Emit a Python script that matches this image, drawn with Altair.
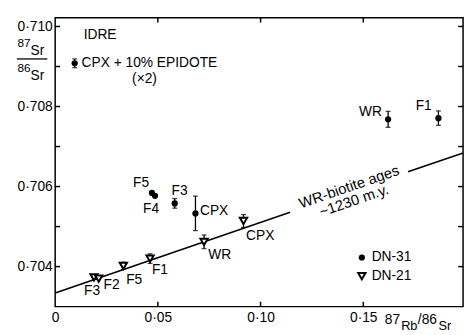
import altair as alt
import pandas as pd

# ---------------- data ----------------
X_DOMAIN = [0.0, 0.1986]
Y_DOMAIN = [0.703, 0.71022]
X_LABEL_TICKS = [0.0, 0.05, 0.10, 0.15]
X_MINOR_TICKS = [0.05, 0.10, 0.15]
Y_LABEL_TICKS = [0.704, 0.706, 0.708, 0.710]
Y_MINOR_TICKS = [0.704, 0.705, 0.706, 0.707, 0.708, 0.709, 0.710]

# DN-31 (filled circles)
dn31_name = ["CPX+EP", "F5", "F4", "F3", "CPX", "WR", "F1"]
dn31_x = [0.0095, 0.0471, 0.0486, 0.0582, 0.0683, 0.1621, 0.1866]
dn31_y = [0.70908, 0.70584, 0.70577, 0.70558, 0.70533, 0.70768, 0.70771]
dn31_err = [0.00011, 0.0, 0.0, 0.00012, 0.00043, 0.00020, 0.00018]

# DN-21 (open down-triangles)
dn21_name = ["F3", "F2", "F5", "F1", "WR", "CPX"]
dn21_x = [0.0189, 0.0212, 0.0332, 0.0462, 0.0725, 0.0917]
dn21_y = [0.70373, 0.70370, 0.70402, 0.70420, 0.70462, 0.70514]
dn21_err = [0.0, 0.0, 0.00009, 0.00012, 0.00017, 0.00016]

# WR-biotite reference line (~1230 m.y.), broken where its label sits
iso_seg = ["a", "a", "b", "b"]
iso_x = [0.0, 0.1144, 0.1718, 0.1986]
iso_y = [0.70334, 0.70536, 0.70637, 0.70684]

# point labels (text shown next to each point; pixel offsets are styling)
lab31_text = ["(×2)", "F5", "F4", "F3", "CPX", "WR", "F1"]
lab31_dx = [71, -11, -4, 5, 19, -18, -15]
lab31_dy = [16, -10, 14, -13, -2, -7, -12]
lab21_text = ["F3", "F2", "F5", "F1", "WR", "CPX"]
lab21_dx = [-2, 13, 11, 10, 16, 17]
lab21_dy = [14, 7, 14, 12, 13, 15]

# ---------------- build tables ----------------
W, H = 415, 294
FONT = "Liberation Sans"

d31 = pd.DataFrame({"name": dn31_name, "x": dn31_x, "y": dn31_y, "err": dn31_err})
d21 = pd.DataFrame({"name": dn21_name, "x": dn21_x, "y": dn21_y, "err": dn21_err})
pts = pd.concat([d31, d21])
eb = pts[pts.err > 0].copy()
eb["lo"] = eb.y - eb.err
eb["hi"] = eb.y + eb.err
caps = pd.concat([
    pd.DataFrame({"x": eb.x, "y": eb.lo}),
    pd.DataFrame({"x": eb.x, "y": eb.hi}),
])
iso = pd.DataFrame({"seg": iso_seg, "x": iso_x, "y": iso_y})

lab_rows = (
    [(dn31_x[i], dn31_y[i], lab31_text[i], lab31_dx[i], lab31_dy[i]) for i in range(len(lab31_text))]
    + [(dn21_x[i], dn21_y[i], lab21_text[i], lab21_dx[i], lab21_dy[i]) for i in range(len(lab21_text))]
)
epi = pd.DataFrame({"x": [dn31_x[0]], "y": [dn31_y[0]], "t": ["CPX + 10% EPIDOTE"]})

xs = alt.Scale(domain=X_DOMAIN, nice=False, zero=False)
ys = alt.Scale(domain=Y_DOMAIN, nice=False, zero=False)

x_axis = alt.Axis(values=X_LABEL_TICKS, title=None, ticks=False, domain=False, grid=False,
                  labelExpr="datum.value == 0 ? '0' : replace(format(datum.value, '.2f'), '.', '·')",
                  labelPadding=4, labelFontSize=14, labelFont=FONT, labelColor="black",
                  labelFlush=False)
y_axis = alt.Axis(values=Y_LABEL_TICKS, title=None, ticks=False, domain=False, grid=False,
                  labelExpr="replace(format(datum.value, '.3f'), '.', '·')",
                  labelPadding=3, labelFontSize=14, labelFont=FONT, labelColor="black",
                  labelFlush=False)
X = alt.X("x:Q", scale=xs, axis=x_axis)
Y = alt.Y("y:Q", scale=ys, axis=y_axis)

one = pd.DataFrame({"a": [0]})

def txt(s, x, y, size=14, align="left", baseline="alphabetic", angle=0):
    kw = dict(text=s, fontSize=size, font=FONT, color="black", align=align, baseline=baseline)
    if angle:
        kw["angle"] = angle
    return alt.Chart(one).mark_text(**kw).encode(x=alt.value(x), y=alt.value(y))

line = alt.Chart(iso).mark_line(color="black", strokeWidth=1.5).encode(x=X, y=Y, detail="seg:N")
bars = alt.Chart(eb).mark_rule(color="black", strokeWidth=1.3).encode(
    x=X, y=alt.Y("lo:Q", scale=ys, axis=y_axis), y2="hi:Q")
capm = alt.Chart(caps).mark_tick(color="black", orient="horizontal", size=5, thickness=1.3).encode(x=X, y=Y)
p31 = alt.Chart(d31).mark_point(shape="circle", filled=True, size=40, color="black", opacity=1).encode(x=X, y=Y)
p21 = alt.Chart(d21).mark_point(shape="triangle-down", filled=True, fill="white", stroke="black",
                                strokeWidth=2, size=55, opacity=1).encode(x=X, y=Y)

label_layers = []
for (lx, ly, lt, ldx, ldy) in lab_rows:
    df = pd.DataFrame({"x": [lx], "y": [ly], "t": [lt]})
    label_layers.append(
        alt.Chart(df).mark_text(fontSize=14, font=FONT, color="black", align="center",
                                baseline="middle", dx=ldx, dy=ldy).encode(x=X, y=Y, text="t:N")
    )
epim = alt.Chart(epi).mark_text(fontSize=14, font=FONT, color="black", align="left",
                                baseline="middle", dx=7).encode(x=X, y=Y, text="t:N")

xt = pd.DataFrame({"x": X_MINOR_TICKS})
yt = pd.DataFrame({"y": Y_MINOR_TICKS})
tb = alt.Chart(xt).mark_rule(color="black", strokeWidth=1.5).encode(x=X, y=alt.value(H), y2=alt.value(H - 5))
tt = alt.Chart(xt).mark_rule(color="black", strokeWidth=1.5).encode(x=X, y=alt.value(0), y2=alt.value(5))
tl = alt.Chart(yt).mark_rule(color="black", strokeWidth=1.5).encode(y=Y, x=alt.value(0), x2=alt.value(5))
tr = alt.Chart(yt).mark_rule(color="black", strokeWidth=1.5).encode(y=Y, x=alt.value(W), x2=alt.value(W - 5))

# legend (drawn by hand, as in the figure)
leg1 = alt.Chart(one).mark_point(shape="circle", filled=True, size=40, color="black", opacity=1).encode(
    x=alt.value(312), y=alt.value(244))
leg2 = alt.Chart(one).mark_point(shape="triangle-down", filled=True, fill="white", stroke="black",
                                 strokeWidth=2, size=55, opacity=1).encode(x=alt.value(312), y=alt.value(263))

annots = [
    txt("DN-31", 322, 244, baseline="middle"),
    txt("DN-21", 322, 263, baseline="middle"),
    txt("IDRE", 29, 18, baseline="middle"),
    txt("WR-biotite ages", 299, 172, size=15, align="center", baseline="middle", angle=341),
    txt("~1230 m.y.", 304, 186, size=15, align="center", baseline="middle", angle=341),
    # y-axis title 87Sr / 86Sr
    txt("87", -25, 30, size=12, align="right"),
    txt("Sr", -25, 38, size=14),
    txt("86", -25, 55, size=12, align="right"),
    txt("Sr", -25, 63, size=14),
    # x-axis title 87Rb/86Sr
    txt("87", 351, 312, size=14, align="right"),
    txt("Rb", 352, 318, size=13),
    txt("/86", 369, 312, size=14),
    txt("Sr", 390, 318, size=13),
]
frac = alt.Chart(one).mark_rule(color="black", strokeWidth=1.3).encode(
    x=alt.value(-39), x2=alt.value(-8), y=alt.value(42))

chart = alt.layer(
    line, bars, capm, p31, p21, *label_layers, epim, tb, tt, tl, tr, leg1, leg2, frac, *annots
).properties(
    width=W, height=H,
    padding={"left": 48, "top": 7, "right": 4, "bottom": 25},
    autosize=alt.AutoSizeParams(type="none"),
    background="white",
).configure_view(stroke="black", strokeWidth=1.5)

chart.save("out.html", embed_options={"renderer": "svg", "actions": False})
